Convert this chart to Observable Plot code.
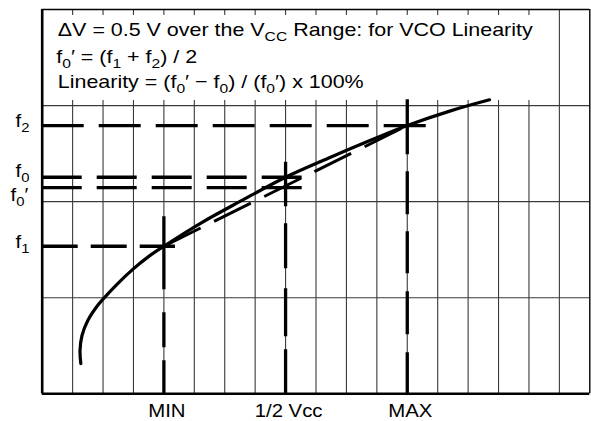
<!DOCTYPE html>
<html>
<head>
<meta charset="utf-8">
<script src="https://cdn.jsdelivr.net/npm/d3@7"></script>
<script src="https://cdn.jsdelivr.net/npm/@observablehq/plot@0.6"></script>
<style>body{margin:0;background:#fff}</style>
</head>
<body>
<div id="chart"></div>
<script>
// ---- data (grid units: x = supply-voltage divisions, y = frequency divisions) ----
const gridX = [1, 2, 3, 4, 5, 6, 7, 8, 9, 10, 11, 12, 13, 14, 15, 16];
const fullGridX = [17];
const gridY = [1, 2, 3];
const tickPos = [4, 8, 12];
const tickLabels = ["MIN", "1/2 Vcc", "MAX"];
const vLineTops = [1.856, 2.411, 3.06];
const freqLabels = ["f_{2}", "f_{0}", "f_{0}′", "f_{1}"];
const freqValues = [2.792, 2.254, 2.145, 1.536];
const freqEnds = [12.74, 8.6, 8.6, 4.38];
const vcoX = [1.269, 1.243, 1.308, 1.499, 1.821, 1.979, 2.449, 2.995, 3.494, 4.0, 5.203, 6.519, 8.0, 9.477, 10.793, 12.0, 13.422, 14.704];
const vcoY = [0.315, 0.451, 0.607, 0.763, 0.919, 0.978, 1.137, 1.300, 1.428, 1.536, 1.775, 2.005, 2.254, 2.462, 2.638, 2.792, 2.945, 3.060];
const noteLines = [
  "ΔV = 0.5 V over the V_{CC} Range: for VCO Linearity",
  "f_{0}′ = (f_{1} + f_{2}) / 2",
  "Linearity = (f_{0}′ − f_{0}) / (f_{0}′) x 100%"
];

const curve = vcoX.map((x, i) => ({x, y: vcoY[i]}));
const chord = [{x: tickPos[0], y: freqValues[3]}, {x: tickPos[2], y: freqValues[0]}];
const GRID = "#3a3a3a";

function hDash(i, dash) {
  return Plot.ruleY([freqValues[i]], {x1: 0, x2: freqEnds[i], stroke: "black", strokeWidth: 3.3, strokeDasharray: dash, strokeLinecap: "butt"});
}
function vDash(i, dash) {
  return Plot.ruleX([tickPos[i]], {y1: 0, y2: vLineTops[i], stroke: "black", strokeWidth: 3.3, strokeDasharray: dash, strokeLinecap: "butt"});
}
function fLabel(idx, dx, dy) {
  return Plot.text(idx, {frameAnchor: "left", y: i => freqValues[i], text: i => freqLabels[i], textAnchor: "start", lineAnchor: "bottom", dx, dy, fill: "black"});
}

const svg = Plot.plot({
  width: 591,
  height: 421,
  marginLeft: 41.7,
  marginRight: 1.7,
  marginTop: 9,
  marginBottom: 27.7,
  x: {domain: [0, 18], axis: null},
  y: {domain: [0, 4], axis: null},
  style: {fontFamily: "'Liberation Sans', Arial, sans-serif", fontSize: "18.5px", background: "white", color: "black"},
  marks: [
    Plot.ruleY(gridY, {stroke: GRID, strokeWidth: 1.1}),
    Plot.ruleX(gridX, {y1: 0, y2: 3, stroke: GRID, strokeWidth: 1.1}),
    Plot.ruleX(fullGridX, {stroke: GRID, strokeWidth: 1.1}),
    Plot.ruleX(gridX, {y1: 4, y2: 4, insetBottom: -6, stroke: GRID, strokeWidth: 1.1}),
    Plot.ruleX(gridX, {y1: 3, y2: 3, insetTop: -5, stroke: GRID, strokeWidth: 1.1}),
    Plot.ruleY([4], {stroke: "black", strokeWidth: 1.4}),
    Plot.ruleX([18], {stroke: "black", strokeWidth: 1.4}),
    Plot.ruleX([0], {stroke: "black", strokeWidth: 2.6}),
    Plot.ruleY([0], {stroke: "black", strokeWidth: 2.6}),
    hDash(0, "42,15"),
    hDash(1, "40,15"),
    hDash(2, "40,15"),
    hDash(3, "36,13"),
    vDash(0, "33,13,35,23,73"),
    vDash(1, "44,13,48,20,45,17,45"),
    vDash(2, "41,18,43,18,42,17,43,17,55"),
    Plot.line(chord, {x: "x", y: "y", stroke: "black", strokeWidth: 3, strokeDasharray: "41,15", strokeLinecap: "butt"}),
    Plot.line(curve, {x: "x", y: "y", curve: "catmull-rom", stroke: "black", strokeWidth: 3.2}),
    Plot.text([noteLines[0]], {frameAnchor: "top-left", textAnchor: "start", lineAnchor: "bottom", dx: 15.6, dy: 26, fill: "black"}),
    Plot.text([noteLines[1]], {frameAnchor: "top-left", textAnchor: "start", lineAnchor: "bottom", dx: 14, dy: 53.5, fill: "black"}),
    Plot.text([noteLines[2]], {frameAnchor: "top-left", textAnchor: "start", lineAnchor: "bottom", dx: 15.6, dy: 78.3, fill: "black"}),
    fLabel([0, 3], -26.7, 1.5),
    fLabel([1], -26.7, 0),
    fLabel([2], -31.7, 13),
    Plot.text(tickPos, {x: d => d, y: 0, text: (d, i) => tickLabels[i], textAnchor: "middle", lineAnchor: "bottom", dx: 3, dy: 23.4, fill: "black"})
  ]
});

// subscripts and horizontal stretch of the lettering
const NS = "http://www.w3.org/2000/svg";
svg.querySelectorAll("text").forEach(el => {
  const s = el.textContent;
  const isNote = noteLines.includes(s);
  const sx = isNote ? 1.16 : 1.1;
  if (s.includes("_{")) {
    el.textContent = "";
    const re = /_\{([^}]*)\}/g;
    let last = 0, m, shifted = false;
    const shift = 5;
    const add = (txt, sub) => {
      const t = document.createElementNS(NS, "tspan");
      t.textContent = txt;
      if (sub) { t.setAttribute("font-size", "13.5px"); t.setAttribute("dy", shift); }
      else if (shifted) { t.setAttribute("dy", -shift); }
      el.appendChild(t);
      shifted = sub;
    };
    while ((m = re.exec(s))) {
      if (m.index > last) add(s.slice(last, m.index), false);
      add(m[1], true);
      last = re.lastIndex;
    }
    if (last < s.length) add(s.slice(last), false);
  }
  const tr = el.getAttribute("transform") || "";
  el.setAttribute("transform", tr + ` scale(${sx},1)`);
});

document.getElementById("chart").appendChild(svg);
</script>
</body>
</html>
